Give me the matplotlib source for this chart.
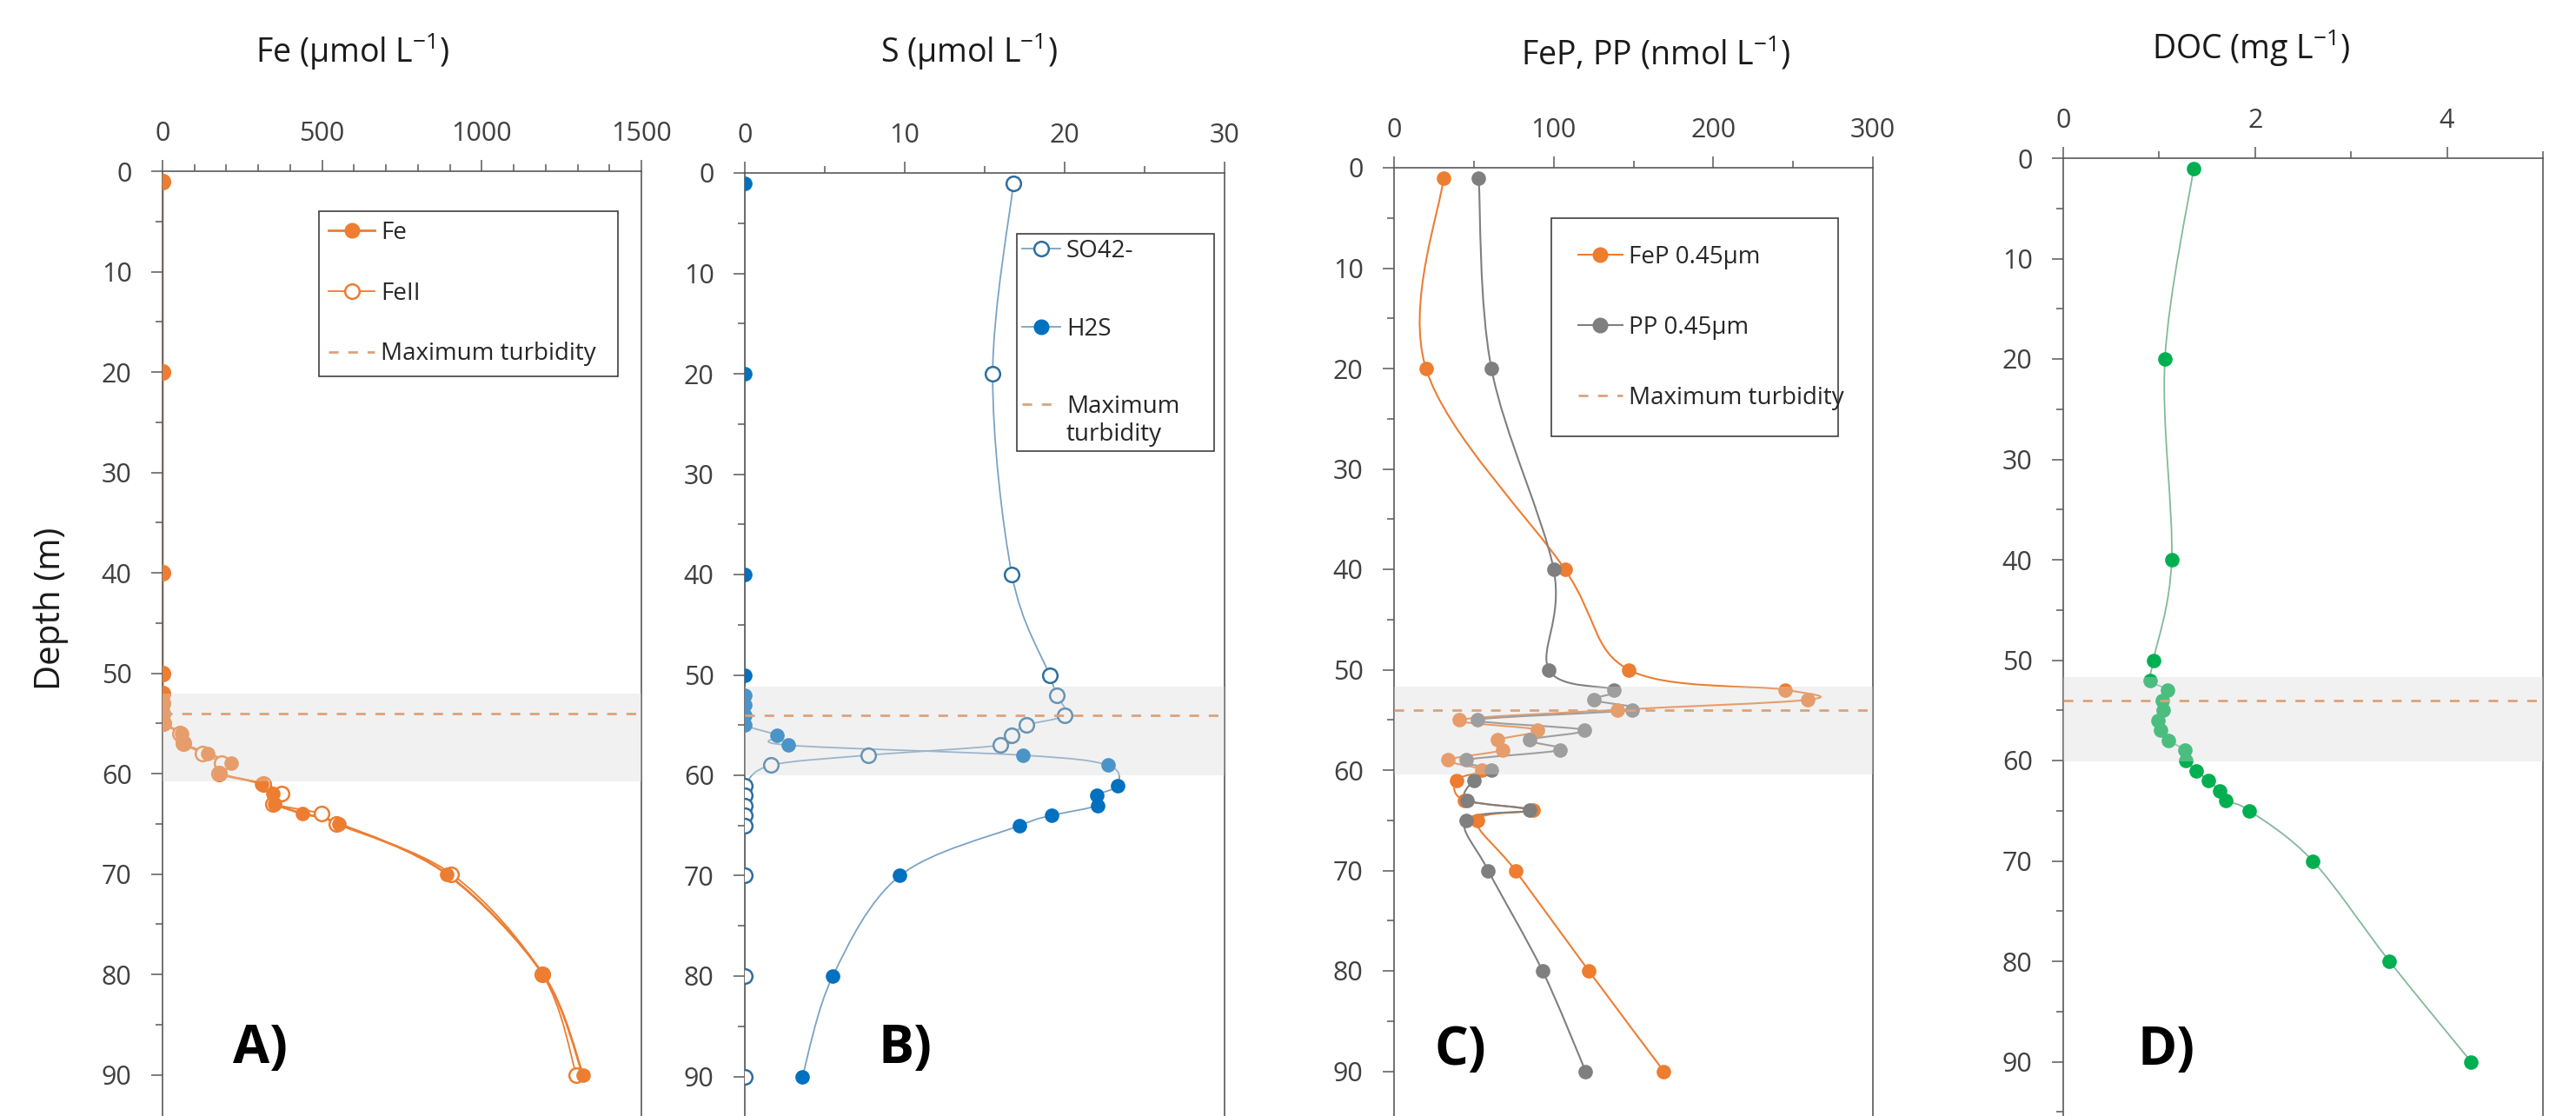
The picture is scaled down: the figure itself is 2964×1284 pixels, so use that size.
import matplotlib
matplotlib.use("Agg")
import matplotlib.pyplot as plt
from matplotlib.path import Path
from matplotlib.patches import PathPatch
from matplotlib.lines import Line2D
from matplotlib.legend_handler import HandlerLine2D
from matplotlib.ticker import MultipleLocator
import numpy as np

# ---- data ----
fe_depth = [1, 20, 40, 50, 52, 53, 54, 55, 56, 57, 58, 59, 60, 61, 62, 63, 64, 65, 70, 80, 90]
fe_total = [0, 0, 0, 0, 0, 0, 0, 3, 60, 66, 141, 215, 180, 309, 345, 352, 439, 553, 890, 1192, 1317]
fe_ii = [0, 0, 0, 0, 0, 0, 0, 3, 55, 66, 126, 186, 178, 316, 373, 347, 499, 545, 905, 1190, 1296]

so4_depth = [1, 20, 40, 50, 52, 54, 55, 56, 57, 58, 59, 61, 62, 63, 64, 65, 70, 80, 90]
so4 = [16.8, 15.5, 16.7, 19.05, 19.5, 20.0, 17.6, 16.7, 16.0, 7.7, 1.65, 0, 0, 0, 0, 0, 0, 0, 0]
h2s_depth = [1, 20, 40, 50, 52, 53, 54, 55, 56, 57, 58, 59, 61, 62, 63, 64, 65, 70, 80, 90]
h2s = [0, 0, 0, 0, 0, 0, 0, 0, 2.0, 2.7, 17.4, 22.7, 23.3, 22.0, 22.05, 19.2, 17.2, 9.7, 5.5, 3.6]

p_depth = [1, 20, 40, 50, 52, 53, 54, 55, 56, 57, 58, 59, 60, 61, 63, 64, 65, 70, 80, 90]
fep = [31, 20, 107, 147, 245, 259, 140, 41, 90, 65, 68, 34, 55, 39, 44, 87, 52, 76, 122, 169]
pp = [53, 61, 100, 97, 138, 125, 149, 52, 119, 85, 104, 45, 61, 50, 46, 85, 45, 59, 93, 120]

doc_depth = [1, 20, 40, 50, 52, 53, 54, 55, 56, 57, 58, 59, 60, 61, 62, 63, 64, 65, 70, 80, 90]
doc = [1.36, 1.06, 1.13, 0.94, 0.91, 1.09, 1.03, 1.04, 0.99, 1.01, 1.10, 1.27, 1.28, 1.39, 1.51,
       1.63, 1.69, 1.94, 2.60, 3.40, 4.25]

max_turbidity = 54.0
turbid_zone = [(52.0, 60.8), (51.2, 60.0), (51.7, 60.4), (51.7, 60.1)]

titles = ["Fe (µmol L$^{-1}$)", "S (µmol L$^{-1}$)", "FeP, PP (nmol L$^{-1}$)", "DOC (mg L$^{-1}$)"]
panel_tags = ["A)", "B)", "C)", "D)"]

# ---- style ----
W, H = 2964, 1284
DPI = 100
PX_PER_M = 11.55
MS = 12
ORANGE = "#ED7D31"
MT_C = "#DDA27A"
BLUE = "#0070C0"
BLUE_EDGE = "#2E6E9E"
BLUE_LINE = "#7AA3C4"
GREY = "#7F7F7F"
GREEN = "#00B050"
GREEN_LINE = "#82B99A"

plt.rcParams.update({
    "font.family": ["Open Sans", "DejaVu Sans"],
    "mathtext.fontset": "custom",
    "mathtext.rm": "Open Sans",
    "mathtext.default": "regular",
    "axes.edgecolor": "#595959",
    "axes.linewidth": 1.2,
    "xtick.color": "#595959",
    "ytick.color": "#595959",
    "xtick.labelcolor": "#404040",
    "ytick.labelcolor": "#404040",
    "xtick.labelsize": 22,
    "ytick.labelsize": 22,
})


def px(x, y):
    return x / W, 1 - y / H


def smooth(x, y):
    # excel-like smoothed line: catmull-rom segments as cubic beziers
    pts = np.column_stack([x, y]).astype(float)
    n = len(pts)
    verts = [pts[0]]
    codes = [Path.MOVETO]
    for i in range(n - 1):
        p0 = pts[i - 1] if i > 0 else pts[i]
        p1 = pts[i]
        p2 = pts[i + 1]
        p3 = pts[i + 2] if i + 2 < n else pts[i + 1]
        verts += [p1 + (p2 - p0) / 6.0, p2 - (p3 - p1) / 6.0, p2]
        codes += [Path.CURVE4] * 3
    return Path(verts, codes)


def series(ax, x, y, line_c, lw, mfc, mec, mew=0.0, zl=2, zm=3):
    ax.add_patch(PathPatch(smooth(x, y), fill=False, edgecolor=line_c, lw=lw, zorder=zl))
    ax.plot(x, y, ls="none", marker="o", ms=MS, mfc=mfc, mec=mec, mew=mew, zorder=zm)


class FirstLineHandler(HandlerLine2D):
    # put the handle level with the first line of a two-line label
    def create_artists(self, legend, orig_handle, xdescent, ydescent, width, height, fontsize, trans):
        arts = super().create_artists(legend, orig_handle, xdescent, ydescent, width, height,
                                      fontsize, trans)
        for a in arts:
            a.set_ydata(np.asarray(a.get_ydata(), dtype=float) + 0.7 * fontsize)
        return arts


fig = plt.figure(figsize=(W / DPI, H / DPI), dpi=DPI)

boxes = [(187, 738, 197), (857, 1409, 199), (1604, 2155, 193), (2374, 2926, 182)]
xlims = [(0, 1500), (0, 30), (0, 300), (0, 5)]
xmajor = [500, 10, 100, 2]
xminor = [100, 5, 50, 1]

axes = []
for i, (l, r, t) in enumerate(boxes):
    x0, _ = px(l, 0)
    ax = fig.add_axes([x0, 0, (r - l) / W, (H - t) / H])
    ax.set_xlim(*xlims[i])
    ax.set_ylim((H - t) / PX_PER_M, 0)
    ax.xaxis.set_major_locator(MultipleLocator(xmajor[i]))
    ax.xaxis.set_minor_locator(MultipleLocator(xminor[i]))
    ax.yaxis.set_major_locator(MultipleLocator(10))
    ax.yaxis.set_minor_locator(MultipleLocator(5))
    ax.tick_params(axis="x", which="both", top=True, bottom=False, labeltop=True,
                   labelbottom=False, direction="out", width=1.1)
    ax.tick_params(axis="x", which="major", length=9.4, pad=11)
    ax.tick_params(axis="x", which="minor", length=5.5)
    ax.tick_params(axis="y", which="both", direction="out", width=1.1)
    ax.tick_params(axis="y", which="major", length=9.4, pad=16)
    ax.tick_params(axis="y", which="minor", length=6)
    ax.spines["bottom"].set_visible(False)
    b0, b1 = turbid_zone[i]
    ax.axhspan(b0, b1, color="#D9D9D9", alpha=0.35, lw=0, zorder=5)
    ax.axhline(max_turbidity, color=MT_C, lw=2.0, ls=(0, (4, 4)), zorder=6)
    axes.append(ax)

axA, axB, axC, axD = axes

# ---- A: iron ----
series(axA, fe_ii, fe_depth, ORANGE, 1.3, "white", ORANGE, mew=1.8)
series(axA, fe_total, fe_depth, ORANGE, 2.0, ORANGE, ORANGE, zl=2.5, zm=3.5)

# ---- B: sulfur ----
series(axB, so4, so4_depth, BLUE_LINE, 1.3, "white", BLUE_EDGE, mew=1.8)
series(axB, h2s, h2s_depth, BLUE_LINE, 1.3, BLUE, BLUE)

# ---- C: particulate P ----
series(axC, fep, p_depth, ORANGE, 1.5, ORANGE, ORANGE)
series(axC, pp, p_depth, GREY, 1.5, GREY, GREY)

# ---- D: DOC ----
series(axD, doc, doc_depth, GREEN_LINE, 1.3, GREEN, GREEN)

# ---- legends ----
def mt_handle():
    return Line2D([], [], color=MT_C, lw=2.0, ls=(0, (4, 4)))


def legend(ax, handles, labels, left, top, width, hl, ls, bp, hmap=None):
    x0, y0 = px(left, top)
    leg = ax.legend(handles, labels, loc="upper left", bbox_to_anchor=(x0, y0 - 0.01, width / W, 0.01),
                    bbox_transform=fig.transFigure, mode="expand", borderaxespad=0, fontsize=20,
                    fancybox=False, edgecolor="#404040", framealpha=1, handlelength=hl,
                    handletextpad=0.25, labelspacing=ls, borderpad=bp, labelcolor="#262626",
                    handler_map=hmap)
    leg.get_frame().set_linewidth(1.2)
    leg.set_zorder(10)
    return leg


legend(axA,
       [Line2D([], [], color=ORANGE, lw=2.0, marker="o", ms=MS, mfc=ORANGE, mec=ORANGE),
        Line2D([], [], color=ORANGE, lw=1.3, marker="o", ms=MS, mfc="white", mec=ORANGE, mew=1.8),
        mt_handle()],
       ["Fe", "FeII", "Maximum turbidity"], 367, 243, 344, 1.9, 1.5, 0.4)

mtB = mt_handle()
legB = legend(axB,
              [Line2D([], [], color=BLUE_LINE, lw=1.3, marker="o", ms=MS, mfc="white", mec=BLUE_EDGE, mew=1.8),
               Line2D([], [], color=BLUE_LINE, lw=1.3, marker="o", ms=MS, mfc=BLUE, mec=BLUE),
               mtB],
              ["SO42-", "H2S", "Maximum\nturbidity"], 1170, 269, 227, 1.6, 2.23, 0.2,
              hmap={mtB: FirstLineHandler()})
for t in legB.get_texts():
    t.set_linespacing(1.15)

legend(axC,
       [Line2D([], [], color=ORANGE, lw=1.5, marker="o", ms=MS, mfc=ORANGE, mec=ORANGE),
        Line2D([], [], color=GREY, lw=1.5, marker="o", ms=MS, mfc=GREY, mec=GREY),
        mt_handle()],
       ["FeP 0.45µm", "PP 0.45µm", "Maximum turbidity"], 1785, 251, 330, 1.85, 1.91, 1.1)

# ---- titles and labels ----
title_xy = [(406, 59), (1115, 59), (1905, 62), (2590, 55)]
for (tx, ty), s in zip(title_xy, titles):
    fig.text(*px(tx, ty), s, fontsize=27, ha="center", va="center", color="#1a1a1a")

tag_xy = [(300, 1208), (1041, 1208), (1680, 1210), (2493, 1210)]
for (tx, ty), s in zip(tag_xy, panel_tags):
    fig.text(*px(tx, ty), s, fontsize=44, fontweight="bold", ha="center", va="center", color="black")

fig.text(*px(59, 700), "Depth (m)", fontsize=29, rotation=90, ha="center", va="center", color="#1a1a1a")

fig.savefig("out.png", dpi=DPI, facecolor="white")
